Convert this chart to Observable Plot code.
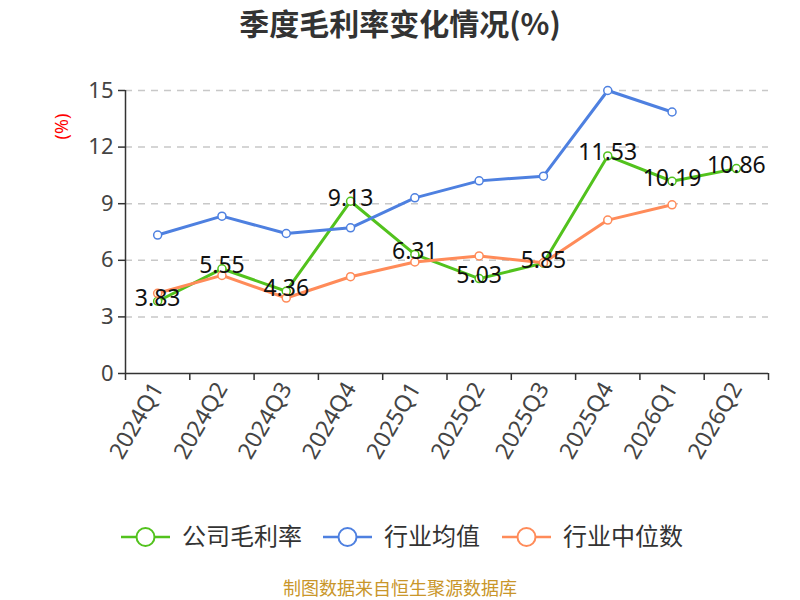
<!DOCTYPE html>
<html>
<head>
<meta charset="utf-8">
<script src="https://cdn.jsdelivr.net/npm/d3@7"></script>
<script src="https://cdn.jsdelivr.net/npm/@observablehq/plot@0.6"></script>
<style>
  body { margin: 0; background: #fff; font-family: "Noto Sans CJK SC", "Noto Sans", sans-serif; }
  #wrap { position: relative; width: 800px; height: 600px; overflow: hidden; }
  #title { position: absolute; top: 0px; left: 0; width: 800px; text-align: center; font-size: 30px; line-height: 44px; font-weight: bold; color: #333; }
  #chart { position: absolute; top: 0; left: 0; }
  #legend { position: absolute; top: 516px; left: 0; width: 800px; height: 44px; }
  #caption { position: absolute; top: 576px; left: 0; width: 800px; text-align: center; font-size: 18px; line-height: 22px; color: #c9962a; }
</style>
</head>
<body>
<div id="wrap">
  <div id="title">季度毛利率变化情况(%)</div>
  <div id="chart"></div>
  <svg id="legend" width="800" height="44"></svg>
  <div id="caption">制图数据来自恒生聚源数据库</div>
</div>
<script>
const quarters = ["2024Q1","2024Q2","2024Q3","2024Q4","2025Q1","2025Q2","2025Q3","2025Q4","2026Q1","2026Q2"];
const companyMargin = [3.83, 5.55, 4.36, 9.13, 6.31, 5.03, 5.85, 11.53, 10.19, 10.86];
const industryMean = [7.34, 8.34, 7.42, 7.72, 9.31, 10.21, 10.46, 15.0, 13.86, null];
const industryMedian = [4.25, 5.20, 4.00, 5.13, 5.91, 6.23, 5.87, 8.13, 8.94, null];
const yTicks = [0, 3, 6, 9, 12, 15];
const seriesNames = ["公司毛利率", "行业均值", "行业中位数"];
const seriesColors = ["#52c21d", "#4e80e0", "#ff8b59"];

function rows(values) {
  return values.map((v, i) => ({ i, q: quarters[i], v })).filter(d => d.v != null);
}
const comp = rows(companyMargin), mean = rows(industryMean), med = rows(industryMedian);
const boundaries = d3.range(quarters.length + 1).map(k => k - 0.5);

const numFont = "'Noto Sans', 'DejaVu Sans', sans-serif";

const chart = Plot.plot({
  width: 800,
  height: 520,
  marginTop: 90,
  marginBottom: 147,
  marginLeft: 125,
  marginRight: 32,
  style: { fontFamily: numFont, background: "transparent", overflow: "visible" },
  x: { type: "linear", domain: [-0.5, quarters.length - 0.5], axis: null },
  y: { domain: [0, 15], axis: null },
  marks: [
    Plot.ruleY(yTicks.filter(t => t > 0), { stroke: "#c8c8c8", strokeWidth: 1.5, strokeDasharray: "7,6" }),
    // y axis
    Plot.ruleX([-0.5], { stroke: "#333", strokeWidth: 1.5 }),
    Plot.axisY({ ticks: yTicks, tickSize: 7, tickPadding: 5, fontSize: 22, stroke: "#333", strokeWidth: 1.5, label: null, fill: "#444" }),
    // x axis
    Plot.ruleY([0], { stroke: "#333", strokeWidth: 1.5 }),
    Plot.axisX({ ticks: boundaries, tickSize: 7, tickFormat: () => "", stroke: "#333", strokeWidth: 1.5, label: null }),
    Plot.axisX({ ticks: d3.range(quarters.length), tickSize: 0, tickFormat: i => quarters[i], tickRotate: -60, tickPadding: 11, fontSize: 23, fill: "#444", label: null }),
    // series
    Plot.lineY(comp, { x: "i", y: "v", stroke: seriesColors[0], strokeWidth: 3 }),
    Plot.dot(comp, { x: "i", y: "v", r: 4, fill: "white", stroke: seriesColors[0], strokeWidth: 1.5 }),
    Plot.lineY(mean, { x: "i", y: "v", stroke: seriesColors[1], strokeWidth: 3 }),
    Plot.dot(mean, { x: "i", y: "v", r: 4, fill: "white", stroke: seriesColors[1], strokeWidth: 1.5 }),
    Plot.lineY(med, { x: "i", y: "v", stroke: seriesColors[2], strokeWidth: 3 }),
    Plot.dot(med, { x: "i", y: "v", r: 4, fill: "white", stroke: seriesColors[2], strokeWidth: 1.5 }),
    Plot.text(comp, { x: "i", y: "v", text: d => d.v.toFixed(2), dy: -3, fontSize: 23, fill: "#111", lineAnchor: "middle" }),
    // unit label
    Plot.text(["(%)"], { frameAnchor: "top-left", textAnchor: "middle", lineAnchor: "middle", dx: -63, dy: 36, rotate: -90, fill: "#ff0000", fontSize: 18, fontFamily: numFont })
  ]
});
document.getElementById("chart").appendChild(chart);

// legend
const leg = d3.select("#legend");
const legX = [121, 323, 502];
seriesNames.forEach((name, k) => {
  const g = leg.append("g").attr("transform", `translate(${legX[k]},21)`);
  g.append("line").attr("x1", 0).attr("x2", 49).attr("y1", 0).attr("y2", 0).attr("stroke", seriesColors[k]).attr("stroke-width", 2.5);
  g.append("circle").attr("cx", 24.5).attr("cy", 0).attr("r", 9).attr("fill", "white").attr("stroke", seriesColors[k]).attr("stroke-width", 2);
  g.append("text").attr("x", 61).attr("y", 0).attr("dy", "0.35em").attr("font-size", 24).attr("fill", "#333")
    .attr("font-family", "'Noto Sans CJK SC', sans-serif").text(name);
});
</script>
</body>
</html>
